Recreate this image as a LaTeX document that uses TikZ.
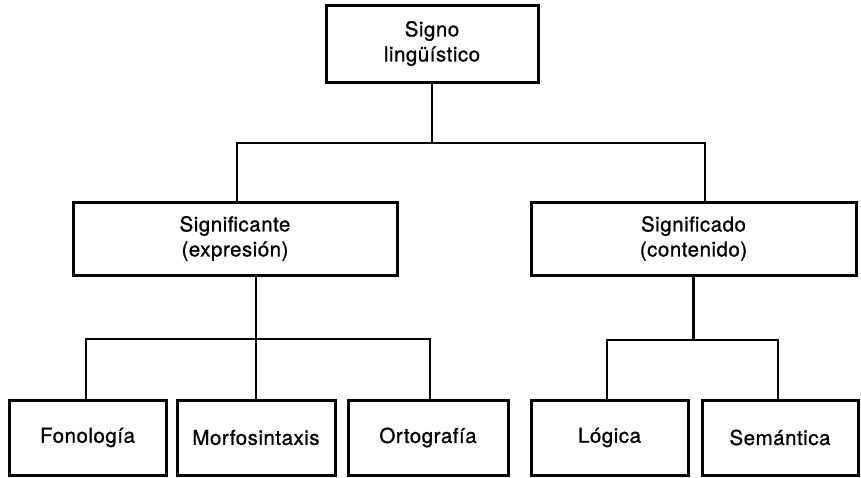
\documentclass[tikz,border=0pt]{standalone}
\usepackage{fontspec}
\setmainfont[LetterSpace=2.5,FakeBold=0.9]{TeX Gyre Heros}
\begin{document}
\begin{tikzpicture}[x=1pt,y=-1pt,
  box/.style={draw=black, line width=3pt, fill=white, inner sep=0pt,
    align=center, font=\fontsize{20.5}{25}\selectfont},
  link/.style={draw=black, line width=2.2pt}]
\useasboundingbox (0,0) rectangle (861,477);

% root
\node[box, minimum width=212pt, minimum height=77pt] (top) at (432,43.5) {Signo\\lingüístico};

% second level
\node[box, minimum width=324pt, minimum height=73pt] (sgte) at (235,238.5) {Significante\\(expresión)};
\node[box, minimum width=325pt, minimum height=73pt] (sgdo) at (693.5,238.5) {Significado\\(contenido)};

% leaves
\node[box, minimum width=157pt, minimum height=75pt] (fon) at (87.5,437.5) {Fonología};
\node[box, minimum width=158pt, minimum height=75pt] (mor) at (256,437.5) {Morfosintaxis};
\node[box, minimum width=160pt, minimum height=75pt] (ort) at (428,437.5) {Ortografía};
\node[box, minimum width=157pt, minimum height=75pt] (log) at (609.5,437.5) {Lógica};
\node[box, minimum width=156pt, minimum height=75pt] (sem) at (780,437.5) {Semántica};

% bus points
\coordinate (aL) at (237,143);
\coordinate (aR) at (705,143);
\coordinate (bL) at (86,339);
\coordinate (bR) at (430,339);
\coordinate (cL) at (607,340);
\coordinate (cR) at (778,340);

% root to second level
\draw[link] (top.south) -- (top.south |- aL);
\draw[link] (sgte.north -| aL) -- (aL) -- (aR) -- (sgdo.north -| aR);

% Significante branch
\draw[link] (sgte.south -| mor.north) -- (mor.north);
\draw[link] (fon.north -| bL) -- (bL) -- (bR) -- (ort.north -| bR);

% Significado branch
\draw[link] (sgdo.south) -- (sgdo.south |- cL);
\draw[link] (log.north -| cL) -- (cL) -- (cR) -- (sem.north -| cR);
\end{tikzpicture}
\end{document}
